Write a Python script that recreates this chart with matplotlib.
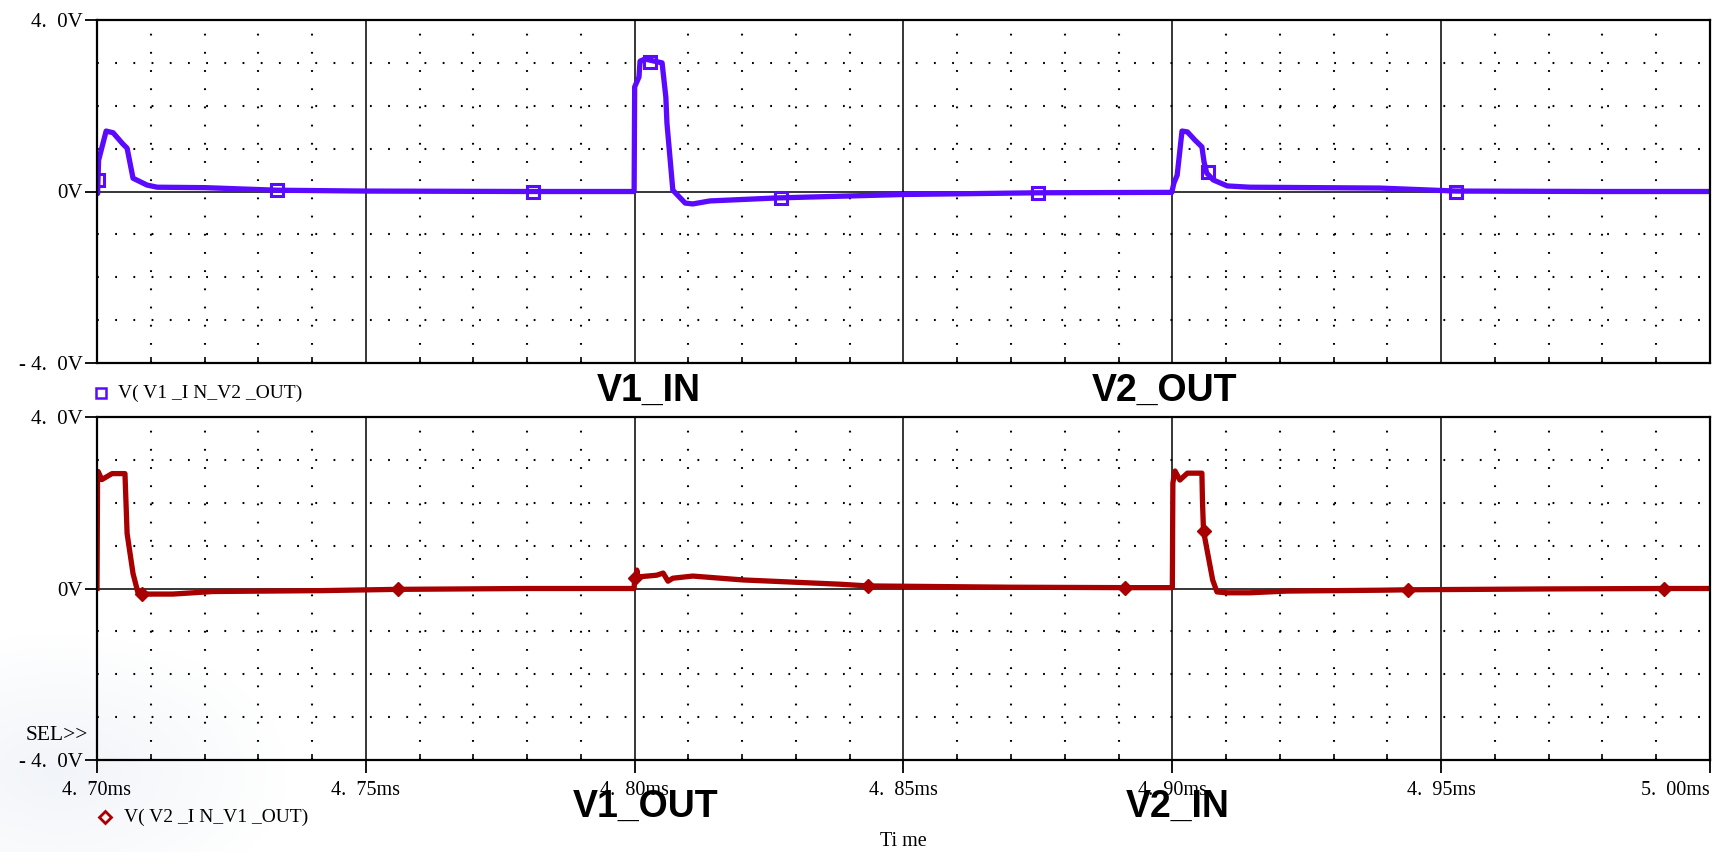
import matplotlib.pyplot as plt
from matplotlib.lines import Line2D
import numpy as np

plt.rcParams['lines.scale_dashes'] = False

W, H = 1717, 852

# time in ms, voltage in V
top_t = [4.7000, 4.7001, 4.7003, 4.7017, 4.7030, 4.7048, 4.7056, 4.7067, 4.7093, 4.7112,
         4.7200, 4.7335, 4.7500, 4.7800, 4.7999, 4.8000, 4.8008, 4.8010, 4.8019, 4.8051,
         4.8058, 4.8060, 4.8071, 4.8094, 4.8108, 4.8140, 4.8265, 4.8500, 4.8750, 4.8999,
         4.9003, 4.9009, 4.9018, 4.9028, 4.9042, 4.9055, 4.9059, 4.9064, 4.9076, 4.9102,
         4.9144, 4.9386, 4.9528, 4.9800, 5.0000]
top_v = [0.27, -0.05, 0.73, 1.41, 1.37, 1.11, 1.01, 0.31, 0.15, 0.10,
         0.09, 0.03, 0.01, 0.00, 0.00, 2.44, 2.67, 3.04, 3.09, 3.00,
         2.20, 1.60, 0.03, -0.27, -0.29, -0.22, -0.15, -0.07, -0.03, -0.02,
         0.20, 0.38, 1.41, 1.39, 1.20, 1.04, 0.69, 0.43, 0.27, 0.13,
         0.10, 0.08, 0.01, 0.00, 0.00]
top_mark_t = [4.7001, 4.7335, 4.7810, 4.8028, 4.8272, 4.8750, 4.9066, 4.9528]
top_mark_v = [0.27, 0.03, 0.00, 3.02, -0.15, -0.03, 0.46, 0.00]

bot_t = [4.7000, 4.7001, 4.7002, 4.7009, 4.7028, 4.7052, 4.7056, 4.7067, 4.7076, 4.7084,
         4.7093, 4.7141, 4.7216, 4.7415, 4.7559, 4.7800, 4.7999, 4.8000, 4.8001, 4.8004,
         4.8006, 4.8041, 4.8053, 4.8062, 4.8071, 4.8108, 4.8201, 4.8382, 4.8434, 4.8700,
         4.8912, 4.9000, 4.9001, 4.9005, 4.9014, 4.9028, 4.9055, 4.9056, 4.9058, 4.9075,
         4.9083, 4.9102, 4.9144, 4.9213, 4.9386, 4.9438, 4.9700, 4.9915, 5.0000]
bot_v = [0.00, 2.47, 2.73, 2.54, 2.68, 2.68, 1.28, 0.35, -0.09, -0.12,
         -0.13, -0.13, -0.07, -0.05, -0.02, 0.00, 0.00, 0.25, 0.15, 0.43,
         0.27, 0.31, 0.36, 0.17, 0.24, 0.29, 0.20, 0.10, 0.06, 0.03,
         0.02, 0.02, 2.46, 2.74, 2.53, 2.69, 2.69, 2.06, 1.34, 0.20,
         -0.08, -0.10, -0.10, -0.06, -0.04, -0.03, -0.01, 0.00, 0.00]
bot_mark_t = [4.7084, 4.7559, 4.8001, 4.8434, 4.8912, 4.9058, 4.9438, 4.9915]
bot_mark_v = [-0.12, -0.02, 0.25, 0.06, 0.02, 1.34, -0.03, 0.00]

x_major = [4.70, 4.75, 4.80, 4.85, 4.90, 4.95, 5.00]
x_labels = ['4.\u200270ms', '4.\u200275ms', '4.\u200280ms', '4.\u200285ms',
            '4.\u200290ms', '4.\u200295ms', '5.\u200200ms']
y_major = [-4, 0, 4]
y_labels = ['- 4.\u20020V', '0V', '4.\u20020V']

blue = '#5a0aff'
red = '#a80000'
serif = 'Liberation Serif'

fig = plt.figure(figsize=(W / 100, H / 100), dpi=100)

# faint logo watermark in the lower left corner
yy, xx = np.mgrid[0:230, 0:330]
r = np.sqrt(((xx - 60) / 230.0) ** 2 + ((yy - 150) / 140.0) ** 2)
wm = np.zeros((230, 330, 4))
wm[..., 0], wm[..., 1], wm[..., 2] = 0.82, 0.86, 0.92
wm[..., 3] = np.clip(0.3 * (1 - r), 0, 1)
fig.figimage(wm, xo=0, yo=0, origin='upper', zorder=-5)


def fx(x):
    return x / W


def fy(y):
    return 1 - y / H


ax1 = fig.add_axes([fx(97), fy(363), (1710 - 97) / W, (363 - 20) / H])
ax2 = fig.add_axes([fx(97), fy(760), (1710 - 97) / W, (760 - 417) / H])

for ax in (ax1, ax2):
    ax.set_xlim(4.70, 5.00)
    ax.set_ylim(-4, 4)
    ax.set_xticks(x_major)
    ax.set_xticks(np.arange(4.70, 5.0001, 0.01), minor=True)
    ax.set_yticks(y_major)
    ax.set_yticklabels(y_labels, fontfamily=serif, fontsize=15)
    ax.set_yticks(np.arange(-3, 4, 1), minor=True)
    ax.grid(which='major', color='black', lw=1.1, ls='-')
    ax.grid(which='minor', color='black', lw=1.5, ls=(0, (1.3, 11.8)))
    ax.tick_params(axis='y', which='major', length=9, width=1.3, pad=1)
    ax.tick_params(axis='y', which='minor', length=0)
    ax.tick_params(axis='x', which='minor', direction='in', length=4, width=1.2)
    for s in ax.spines.values():
        s.set_linewidth(1.6)
    ax.set_axisbelow(True)
    ax.patch.set_alpha(0)

ax1.tick_params(axis='x', which='major', length=0, labelbottom=False)
ax2.tick_params(axis='x', which='major', length=9, width=1.3, pad=6)
ax2.set_xticklabels(x_labels, fontfamily=serif, fontsize=14.5)
ax2.get_xticklabels()[-1].set_horizontalalignment('right')

ax1.plot(top_t, top_v, color=blue, lw=3.8, solid_joinstyle='round')
ax1.plot(top_mark_t, top_mark_v, ls='none', marker='s', ms=9, mfc='none',
         mec=blue, mew=2.2)
ax2.plot(bot_t, bot_v, color=red, lw=3.8, solid_joinstyle='round')
ax2.plot(bot_mark_t, bot_mark_v, ls='none', marker='D', ms=7, color=red)

# legends and labels
fig.add_artist(Line2D([fx(101)], [fy(393)], transform=fig.transFigure,
                      marker='s', ms=7, mfc='none', mec=blue, mew=1.8))
fig.text(fx(118), fy(393), 'V( V1 _I N_V2 _OUT)', fontsize=14, family=serif,
         va='center')
fig.add_artist(Line2D([fx(105)], [fy(817)], transform=fig.transFigure,
                      marker='D', ms=6, mfc='none', mec=red, mew=2.0))
fig.text(fx(124), fy(817), 'V( V2 _I N_V1 _OUT)', fontsize=14, family=serif,
         va='center')
fig.text(fx(88), fy(736), 'SEL>>', fontsize=15.5, family=serif, ha='right',
         va='center')
fig.text(fx(903), fy(841), 'Ti me', fontsize=14.5, family=serif, ha='center',
         va='center')

for label, x, y in [('V1_IN', 649, 391), ('V2_OUT', 1165, 391),
                    ('V1_OUT', 646, 807), ('V2_IN', 1178, 807)]:
    fig.text(fx(x), fy(y), label, fontsize=27, family='Liberation Sans',
             fontweight='bold', ha='center', va='center')

fig.savefig('out.png', dpi=100)
